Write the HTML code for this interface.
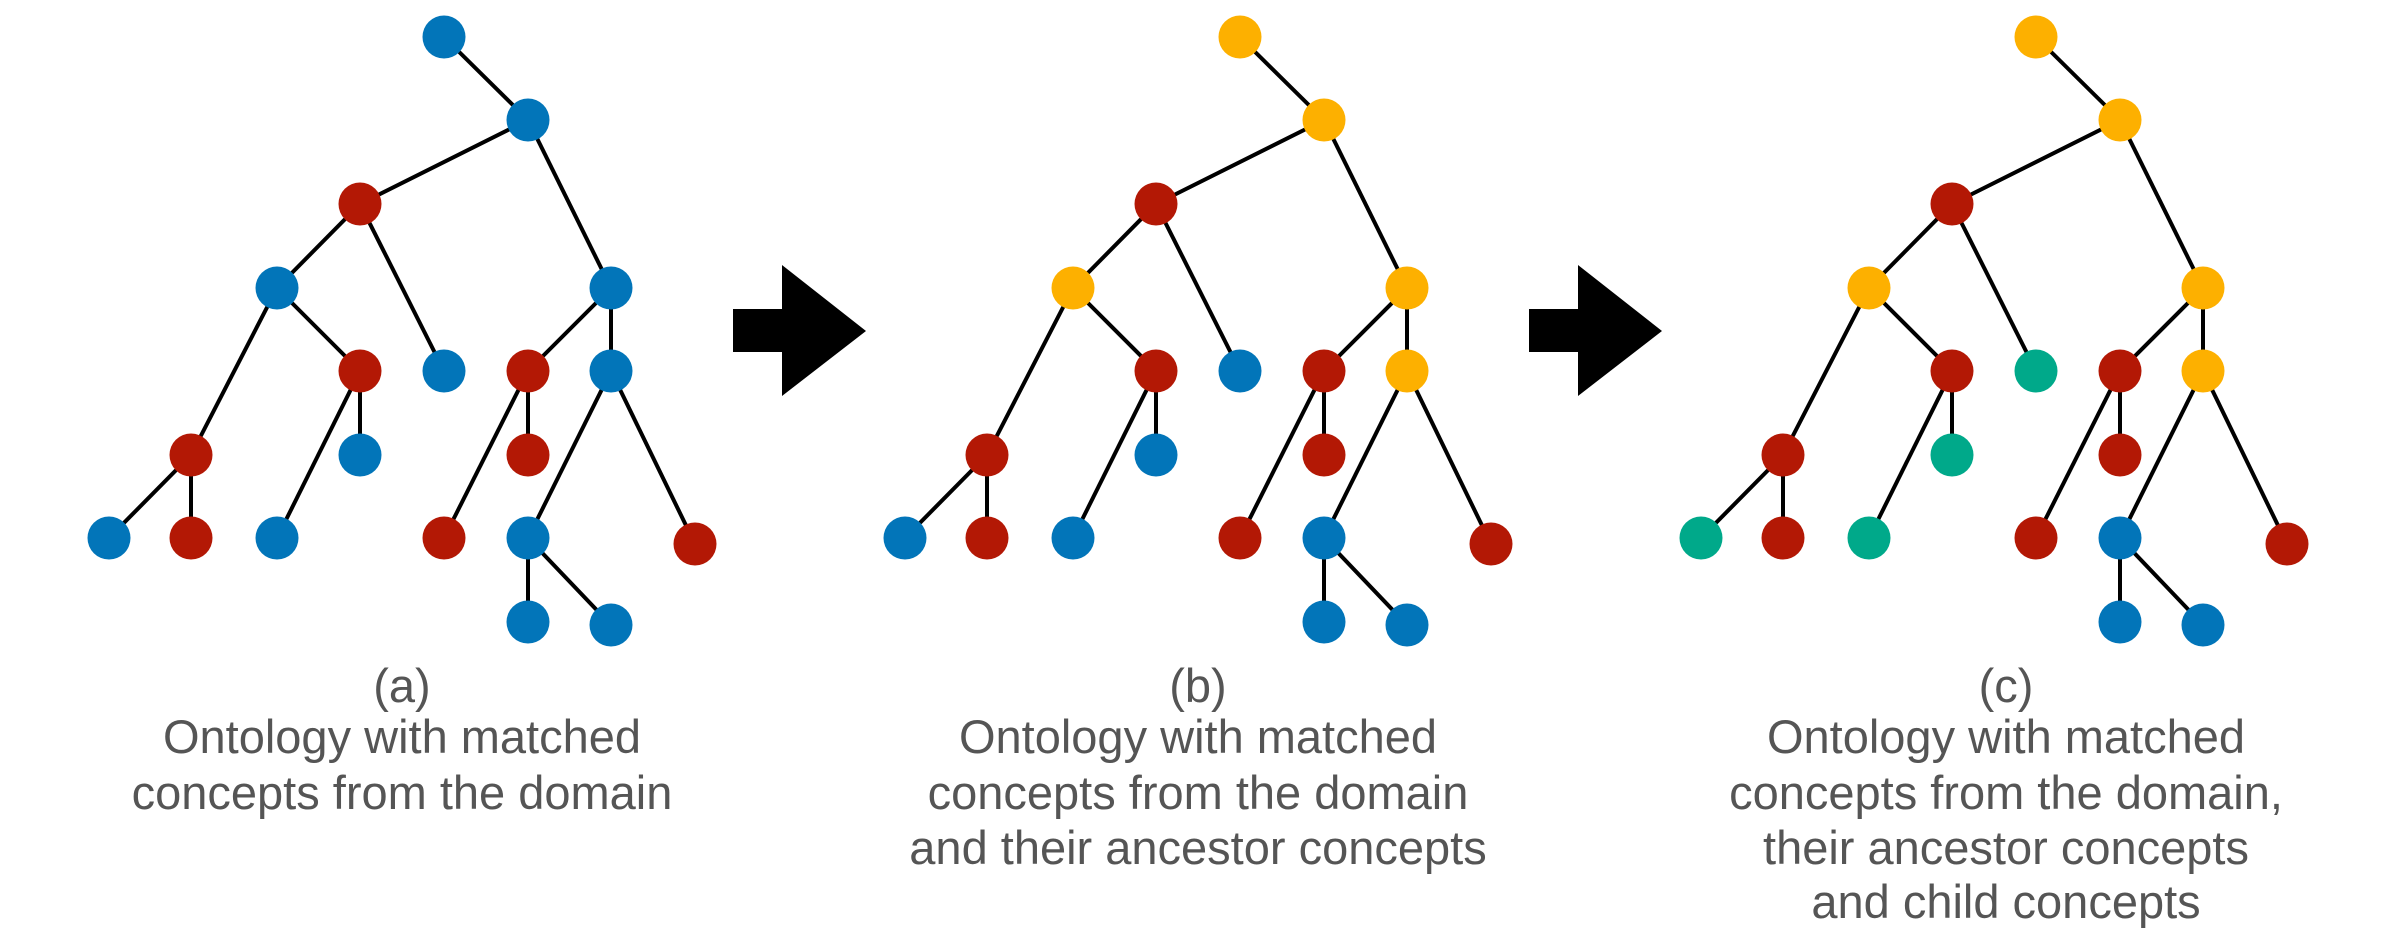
<!DOCTYPE html>
<html><head><meta charset="utf-8"><style>
html,body{margin:0;padding:0;background:#fff;}
svg{display:block;}
text{font-family:"Liberation Sans",sans-serif;fill:#555;font-size:47px;text-anchor:middle;}
</style></head><body>
<svg width="2394" height="928" viewBox="0 0 2394 928" xmlns="http://www.w3.org/2000/svg">
<defs>
<g id="edges" stroke="#000" stroke-width="4">
<line x1="444" y1="37" x2="528" y2="120"/>
<line x1="528" y1="120" x2="360" y2="204"/>
<line x1="528" y1="120" x2="611" y2="288"/>
<line x1="360" y1="204" x2="277" y2="288"/>
<line x1="360" y1="204" x2="444" y2="371"/>
<line x1="277" y1="288" x2="191" y2="455"/>
<line x1="277" y1="288" x2="360" y2="371"/>
<line x1="360" y1="371" x2="360" y2="455"/>
<line x1="360" y1="371" x2="277" y2="538"/>
<line x1="191" y1="455" x2="109" y2="538"/>
<line x1="191" y1="455" x2="191" y2="538"/>
<line x1="611" y1="288" x2="528" y2="371"/>
<line x1="611" y1="288" x2="611" y2="371"/>
<line x1="528" y1="371" x2="528" y2="455"/>
<line x1="528" y1="371" x2="444" y2="538"/>
<line x1="611" y1="371" x2="528" y2="538"/>
<line x1="611" y1="371" x2="695" y2="544"/>
<line x1="528" y1="538" x2="528" y2="622"/>
<line x1="528" y1="538" x2="611" y2="625"/>
</g>
<polygon id="arrow" points="733,309 782,309 782,265 866,331 782,396 782,352 733,352" fill="#000"/>
</defs>

<!-- Panel a -->
<g>
<use href="#edges"/>
<g>
<circle cx="444" cy="37" r="21.5" fill="#0275b9"/>
<circle cx="528" cy="120" r="21.5" fill="#0275b9"/>
<circle cx="360" cy="204" r="21.5" fill="#b31805"/>
<circle cx="277" cy="288" r="21.5" fill="#0275b9"/>
<circle cx="611" cy="288" r="21.5" fill="#0275b9"/>
<circle cx="360" cy="371" r="21.5" fill="#b31805"/>
<circle cx="444" cy="371" r="21.5" fill="#0275b9"/>
<circle cx="528" cy="371" r="21.5" fill="#b31805"/>
<circle cx="611" cy="371" r="21.5" fill="#0275b9"/>
<circle cx="191" cy="455" r="21.5" fill="#b31805"/>
<circle cx="360" cy="455" r="21.5" fill="#0275b9"/>
<circle cx="528" cy="455" r="21.5" fill="#b31805"/>
<circle cx="109" cy="538" r="21.5" fill="#0275b9"/>
<circle cx="191" cy="538" r="21.5" fill="#b31805"/>
<circle cx="277" cy="538" r="21.5" fill="#0275b9"/>
<circle cx="444" cy="538" r="21.5" fill="#b31805"/>
<circle cx="528" cy="538" r="21.5" fill="#0275b9"/>
<circle cx="695" cy="544" r="21.5" fill="#b31805"/>
<circle cx="528" cy="622" r="21.5" fill="#0275b9"/>
<circle cx="611" cy="625" r="21.5" fill="#0275b9"/>
</g>
<text x="402" y="702">(a)</text>
<text x="402" y="753">Ontology with matched</text>
<text x="402" y="809">concepts from the domain</text>
</g>

<use href="#arrow"/>

<!-- Panel b -->
<g transform="translate(796,0)">
<use href="#edges"/>
<circle cx="444" cy="37" r="21.5" fill="#fdb000"/>
<circle cx="528" cy="120" r="21.5" fill="#fdb000"/>
<circle cx="360" cy="204" r="21.5" fill="#b31805"/>
<circle cx="277" cy="288" r="21.5" fill="#fdb000"/>
<circle cx="611" cy="288" r="21.5" fill="#fdb000"/>
<circle cx="360" cy="371" r="21.5" fill="#b31805"/>
<circle cx="444" cy="371" r="21.5" fill="#0275b9"/>
<circle cx="528" cy="371" r="21.5" fill="#b31805"/>
<circle cx="611" cy="371" r="21.5" fill="#fdb000"/>
<circle cx="191" cy="455" r="21.5" fill="#b31805"/>
<circle cx="360" cy="455" r="21.5" fill="#0275b9"/>
<circle cx="528" cy="455" r="21.5" fill="#b31805"/>
<circle cx="109" cy="538" r="21.5" fill="#0275b9"/>
<circle cx="191" cy="538" r="21.5" fill="#b31805"/>
<circle cx="277" cy="538" r="21.5" fill="#0275b9"/>
<circle cx="444" cy="538" r="21.5" fill="#b31805"/>
<circle cx="528" cy="538" r="21.5" fill="#0275b9"/>
<circle cx="695" cy="544" r="21.5" fill="#b31805"/>
<circle cx="528" cy="622" r="21.5" fill="#0275b9"/>
<circle cx="611" cy="625" r="21.5" fill="#0275b9"/>
<text x="402" y="702">(b)</text>
<text x="402" y="753">Ontology with matched</text>
<text x="402" y="809">concepts from the domain</text>
<text x="402" y="864">and their ancestor concepts</text>
</g>

<use href="#arrow" transform="translate(796,0)"/>

<!-- Panel c -->
<g transform="translate(1592,0)">
<use href="#edges"/>
<circle cx="444" cy="37" r="21.5" fill="#fdb000"/>
<circle cx="528" cy="120" r="21.5" fill="#fdb000"/>
<circle cx="360" cy="204" r="21.5" fill="#b31805"/>
<circle cx="277" cy="288" r="21.5" fill="#fdb000"/>
<circle cx="611" cy="288" r="21.5" fill="#fdb000"/>
<circle cx="360" cy="371" r="21.5" fill="#b31805"/>
<circle cx="444" cy="371" r="21.5" fill="#00a98a"/>
<circle cx="528" cy="371" r="21.5" fill="#b31805"/>
<circle cx="611" cy="371" r="21.5" fill="#fdb000"/>
<circle cx="191" cy="455" r="21.5" fill="#b31805"/>
<circle cx="360" cy="455" r="21.5" fill="#00a98a"/>
<circle cx="528" cy="455" r="21.5" fill="#b31805"/>
<circle cx="109" cy="538" r="21.5" fill="#00a98a"/>
<circle cx="191" cy="538" r="21.5" fill="#b31805"/>
<circle cx="277" cy="538" r="21.5" fill="#00a98a"/>
<circle cx="444" cy="538" r="21.5" fill="#b31805"/>
<circle cx="528" cy="538" r="21.5" fill="#0275b9"/>
<circle cx="695" cy="544" r="21.5" fill="#b31805"/>
<circle cx="528" cy="622" r="21.5" fill="#0275b9"/>
<circle cx="611" cy="625" r="21.5" fill="#0275b9"/>
<text x="414" y="702">(c)</text>
<text x="414" y="753">Ontology with matched</text>
<text x="414" y="809">concepts from the domain,</text>
<text x="414" y="864">their ancestor concepts</text>
<text x="414" y="918">and child concepts</text>
</g>
</svg>
</body></html>
